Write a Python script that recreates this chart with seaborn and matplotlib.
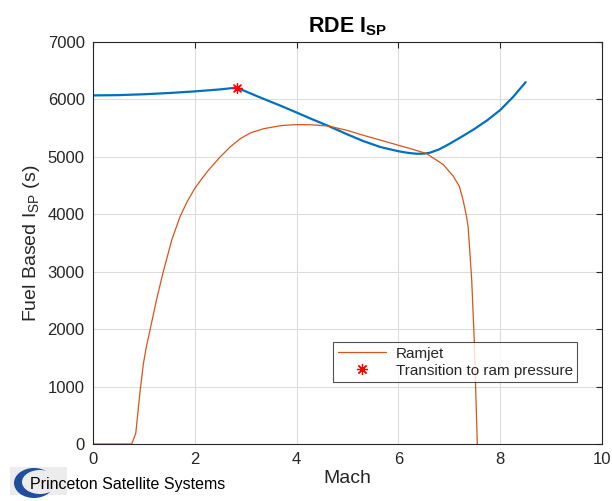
import matplotlib
matplotlib.use("Agg")
import matplotlib.pyplot as plt
import seaborn as sns
from matplotlib.patches import Ellipse, Rectangle
from matplotlib.lines import Line2D

# ---- data ----
mach_rde = [0.0, 0.5, 1.0, 1.5, 2.0, 2.5, 2.82, 3.0, 3.35, 3.7, 4.0, 4.3, 4.62, 5.0, 5.31, 5.65, 6.0,
            6.2, 6.36, 6.5, 6.62, 6.8, 7.0, 7.28, 7.5, 7.75, 8.0, 8.25, 8.5]
isp_rde = [6070, 6075, 6090, 6112, 6140, 6175, 6205, 6140, 6010, 5885, 5772, 5657, 5540, 5390, 5275, 5170, 5098,
           5068, 5054, 5056, 5072, 5130, 5225, 5370, 5490, 5640, 5815, 6040, 6300]

mach_ramjet = [0.0, 0.76, 0.84, 0.92, 0.99, 1.05, 1.12, 1.25, 1.38, 1.55, 1.71, 1.85, 2.0, 2.13, 2.27, 2.5,
               2.69, 2.9, 3.1, 3.35, 3.7, 4.0, 4.3, 4.62, 5.0, 5.31, 5.65, 6.0, 6.25, 6.55, 6.88, 7.08,
               7.2, 7.27, 7.33, 7.37, 7.44, 7.49, 7.55]
isp_ramjet = [0, 0, 186, 880, 1400, 1700, 1985, 2520, 3000, 3560, 3960, 4220, 4450, 4610, 4770, 5000,
              5170, 5320, 5420, 5490, 5545, 5562, 5558, 5538, 5460, 5376, 5290, 5202, 5140, 5058, 4867, 4660,
              4480, 4250, 4000, 3785, 2860, 1810, 0]

transition_mach = [2.82]
transition_isp = [6205]

x_ticks = [0, 2, 4, 6, 8, 10]
y_ticks = [0, 1000, 2000, 3000, 4000, 5000, 6000, 7000]

# ---- style ----
sns.set_style("white")
plt.rcParams['font.family'] = ['Liberation Sans', 'DejaVu Sans']

fig = plt.figure(figsize=(6.12, 5.01), dpi=100)
ax = fig.add_axes([93/612, 57/501, 509/612, 402/501])

blue = '#0072BD'
orange = '#D95319'

sns.lineplot(x=mach_rde, y=isp_rde, ax=ax, color=blue, linewidth=1.6, sort=False, estimator=None)
sns.lineplot(x=mach_ramjet, y=isp_ramjet, ax=ax, color=orange, linewidth=0.9, sort=False, estimator=None)
sns.scatterplot(x=transition_mach, y=transition_isp, ax=ax, marker=(8, 2, 0), s=50,
                color='red', edgecolor='red', linewidth=0.9, zorder=5)

ax.set_xlim(0, 10)
ax.set_ylim(0, 7000)
ax.set_xticks(x_ticks)
ax.set_yticks(y_ticks)
ax.tick_params(axis='both', which='both', direction='in', length=4, width=0.8,
               top=True, right=True, labelsize=12, colors='#262626', pad=6)
ax.grid(True, color='#dcdcdc', linewidth=0.8)
for s in ax.spines.values():
    s.set_color('#262626')
    s.set_linewidth(0.8)

ax.set_xlabel('Mach', fontsize=14, color='#262626', labelpad=2)
ax.set_ylabel('Fuel Based I$_{\\mathregular{SP}}$ (s)', fontsize=14, color='#262626', labelpad=4)
ax.set_title('RDE I$_{\\mathregular{SP}}$', fontsize=15.5, fontweight='bold', color='black', pad=7)

handles = [Line2D([], [], color=orange, linewidth=0.9),
           Line2D([], [], color='red', marker=(8, 2, 0), markersize=8, linestyle='None', markeredgewidth=0.9)]
leg = ax.legend(handles, ['Ramjet', 'Transition to ram pressure'], loc='upper left',
                bbox_to_anchor=(0.4715, 0.2537), fontsize=11, frameon=True, fancybox=False,
                edgecolor='#262626', borderpad=0.3, labelspacing=0.2, handlelength=3.2,
                handletextpad=0.6, borderaxespad=0)
leg.get_frame().set_linewidth(0.8)

# logo
fig.patches.append(Rectangle((10/612, 6/501), 57/612, 28/501, transform=fig.transFigure,
                             facecolor='#ececec', edgecolor='none', zorder=0))
fig.patches.append(Ellipse((34/612, 18/501), 40/612, 30/501, transform=fig.transFigure,
                           facecolor='#1f4e9c', edgecolor='none', zorder=1))
fig.patches.append(Ellipse((40/612, 19/501), 36/612, 24/501, transform=fig.transFigure,
                           facecolor='#ececec', edgecolor='none', zorder=2))
fig.text(30/612, 16/501, 'Princeton Satellite Systems', fontsize=11.5, color='black',
         ha='left', va='center', zorder=3)

fig.savefig('out.png', dpi=100)
